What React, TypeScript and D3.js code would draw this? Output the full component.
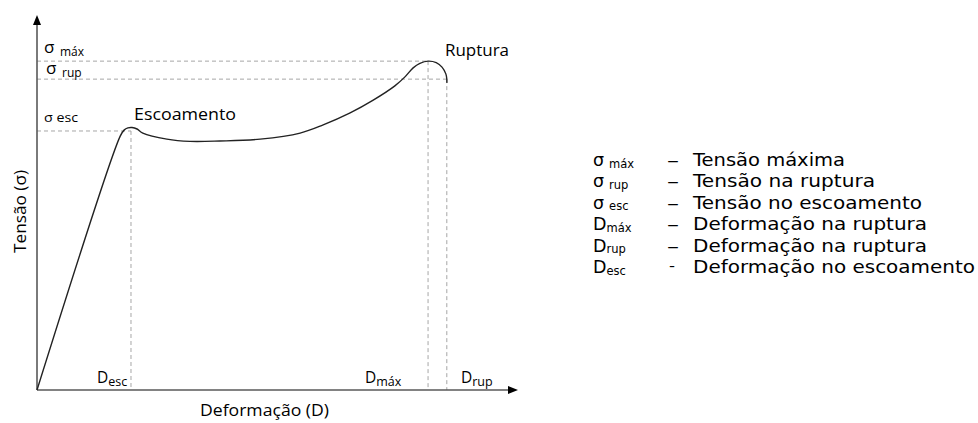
import React from "react";
import * as d3 from "d3";

// Stress–strain curve (deformation %, stress %)
const curveX = [0, 17.3, 18.1, 18.9, 19.75, 20.8, 22.0, 27.0, 31.8, 38.0, 46.4, 54.7, 59.5, 65.1, 69.9, 74.4, 76.5, 78.2, 79.6, 81.3, 83.0, 84.2, 85.0, 85.2, 85.2];
const curveY = [0, 67.7, 69.3, 69.9, 70.0, 69.6, 68.5, 66.9, 66.3, 66.4, 66.9, 68.5, 70.7, 73.9, 77.3, 81.1, 83.5, 85.9, 87.1, 87.7, 87.3, 86.1, 84.3, 82.9, 81.9];

// Reference levels
const dEsc = 19.54, dMax = 81.3, dRup = 85.2;
const sEsc = 69.07, sMax = 87.7, sRup = 82.9;

const legendBases = ["σ", "σ", "σ", "D", "D", "D"];
const legendSubs = ["máx", "rup", "esc", "máx", "rup", "esc"];
const legendDashes = ["–", "–", "–", "–", "–", "-"];
const legendTexts = [
  "Tensão máxima",
  "Tensão na ruptura",
  "Tensão no escoamento",
  "Deformação na ruptura",
  "Deformação na ruptura",
  "Deformação no escoamento",
];

// layout (pixel widths of the legend texts in the reference)
const legendTextWidths = [152, 182, 229, 234, 234, 282];

const FONT = "'Open Sans', sans-serif";
const LFONT = "'DejaVu Sans', sans-serif";

export default function App() {
  const x = d3.scaleLinear().domain([0, 100]).range([37, 518]);
  const y = d3.scaleLinear().domain([0, 100]).range([390, 15]);
  const pts: [number, number][] = curveX.map((v, i) => [v, curveY[i]]);
  const line = d3
    .line<[number, number]>()
    .x((d) => x(d[0]))
    .y((d) => y(d[1]))
    .curve(d3.curveCatmullRom.alpha(0.5));

  const axisColor = "#595959";
  const dashColor = "#a6a6a6";
  const x0 = x(0), y0 = y(0);

  return (
    <svg
      width={978}
      height={423}
      style={{ position: "absolute", left: 0, top: 0, background: "#fff" }}
      fontFamily={FONT}
    >
      {/* dashed guides */}
      <g stroke={dashColor} strokeWidth={1} strokeDasharray="4,3" fill="none">
        <line x1={x0} x2={x(dMax)} y1={y(sMax)} y2={y(sMax)} />
        <line x1={x0} x2={x(dRup)} y1={y(sRup)} y2={y(sRup)} />
        <line x1={x0} x2={x(dEsc)} y1={y(sEsc)} y2={y(sEsc)} />
        <line x1={x(dEsc)} x2={x(dEsc)} y1={y(sEsc)} y2={y0} />
        <line x1={x(dMax)} x2={x(dMax)} y1={y(sMax)} y2={y0} />
        <line x1={x(dRup)} x2={x(dRup)} y1={y(sRup)} y2={y0} />
      </g>

      {/* axes */}
      <line x1={x0} x2={x0} y1={y0} y2={y(100) + 8} stroke={axisColor} strokeWidth={1.6} />
      <path d={`M${x0},${y(100)} L${x0 - 4},${y(100) + 10} L${x0 + 4},${y(100) + 10} Z`} fill="#000" />
      <line x1={x0} x2={x(100) - 8} y1={y0} y2={y0} stroke={axisColor} strokeWidth={1.6} />
      <path d={`M${x(100)},${y0} L${x(100) - 10},${y0 - 4} L${x(100) - 10},${y0 + 4} Z`} fill="#000" />

      {/* curve */}
      <path d={line(pts) || ""} fill="none" stroke="#222" strokeWidth={1.4} />

      {/* stress labels */}
      <text x={44} y={53} fontSize={17} fill="#000">σ</text>
      <text x={60} y={56} fontSize={12} fill="#000">máx</text>
      <text x={46} y={74} fontSize={17} fill="#000">σ</text>
      <text x={62} y={77} fontSize={12} fill="#000">rup</text>
      <text x={44} y={122} fontSize={13} textLength={34} lengthAdjust="spacingAndGlyphs" fill="#000">σ esc</text>

      <text x={134} y={120} fontSize={16} textLength={102} lengthAdjust="spacingAndGlyphs" fill="#000">Escoamento</text>
      <text x={445} y={56} fontSize={16} textLength={64} lengthAdjust="spacingAndGlyphs" fill="#000">Ruptura</text>

      {/* deformation labels */}
      <text x={97} y={383} fontSize={15.5} fill="#000">D<tspan fontSize={12.5} dy={3}>esc</tspan></text>
      <text x={365} y={383} fontSize={15.5} fill="#000">D<tspan fontSize={12.5} dy={3}>máx</tspan></text>
      <text x={461} y={383} fontSize={15.5} fill="#000">D<tspan fontSize={12.5} dy={3}>rup</tspan></text>

      {/* axis titles */}
      <text x={200} y={416} fontSize={16} textLength={129} lengthAdjust="spacingAndGlyphs" fill="#000">Deformação (D)</text>
      <text transform="translate(26,253) rotate(-90)" fontSize={16} textLength={83} lengthAdjust="spacingAndGlyphs" fill="#000">Tensão (σ)</text>

      {/* legend */}
      <g fontFamily={LFONT} fill="#000">
        {legendTexts.map((t, i) => {
          const by = 166 + i * 21.4;
          const isSigma = legendBases[i] === "σ";
          const isHyphen = legendDashes[i] === "-";
          return (
            <g key={i}>
              <text x={593} y={by} fontSize={17.5}>
                {legendBases[i]}
                <tspan fontSize={11.5} dy={1.5} dx={isSigma ? 5 : 0}>{legendSubs[i]}</tspan>
              </text>
              {isHyphen ? (
                <text x={669} y={by - 2} fontSize={14} textLength={6} lengthAdjust="spacingAndGlyphs">{legendDashes[i]}</text>
              ) : (
                <text x={667} y={by} fontSize={16} textLength={12} lengthAdjust="spacingAndGlyphs">{legendDashes[i]}</text>
              )}
              <text x={693} y={by} fontSize={17.5} textLength={legendTextWidths[i]} lengthAdjust="spacingAndGlyphs">{t}</text>
            </g>
          );
        })}
      </g>
    </svg>
  );
}
